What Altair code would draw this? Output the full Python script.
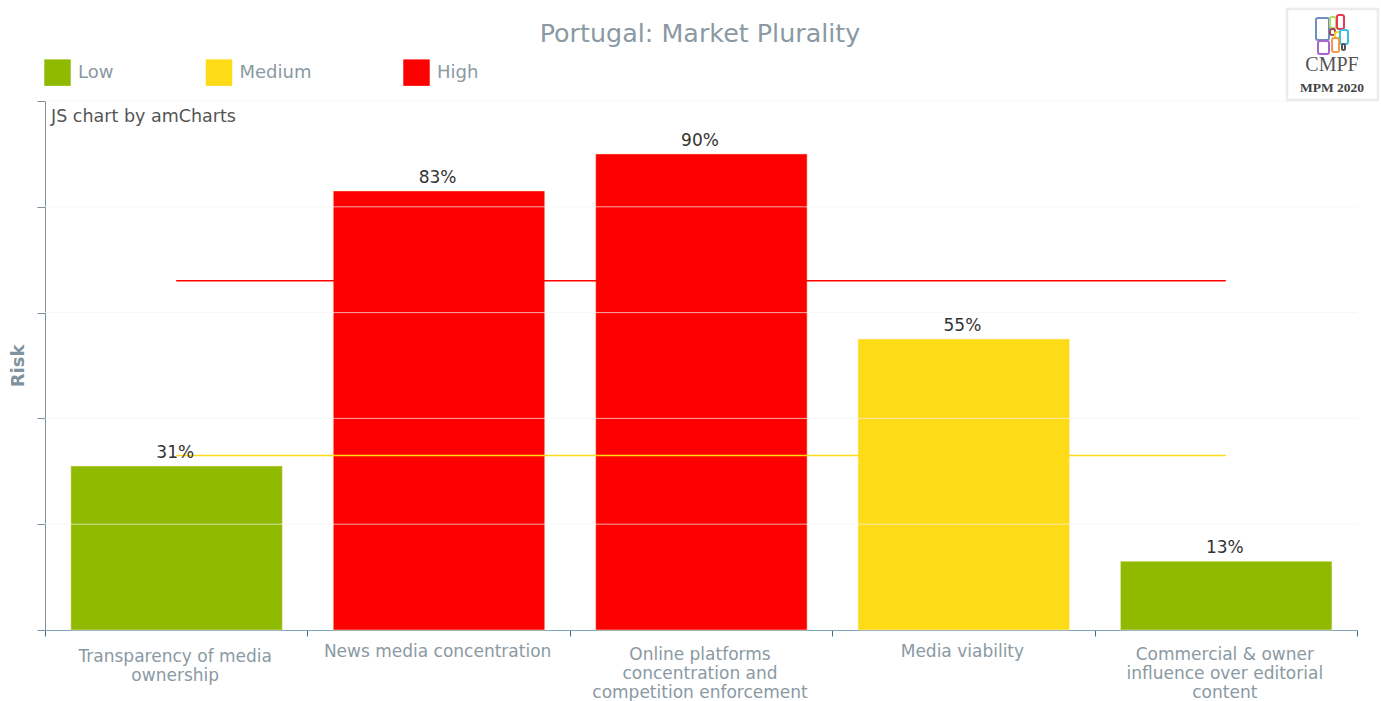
import altair as alt
import pandas as pd

categories = [
    "Transparency of media ownership",
    "News media concentration",
    "Online platforms concentration and competition enforcement",
    "Media viability",
    "Commercial & owner influence over editorial content",
]
wrapped_labels = [
    "Transparency of media\nownership",
    "News media concentration",
    "Online platforms\nconcentration and\ncompetition enforcement",
    "Media viability",
    "Commercial & owner\ninfluence over editorial\ncontent",
]
risk_values = [31, 83, 90, 55, 13]
risk_levels = ["Low", "High", "High", "Medium", "Low"]
level_names = ["Low", "Medium", "High"]
level_colors = ["#8fba00", "#fddb17", "#ff0000"]
grid_values = [20, 40, 60, 80, 100]
thresholds = [("Medium", 33), ("High", 66)]

FONT = "DejaVu Sans"
LEFT, TOP = 45, 101
WIDTH, HEIGHT = 1312, 529
TEXT_GREY = "#8a99a3"


def px(v):
    return alt.value(v - LEFT)


def py(v):
    return alt.value(v - TOP)


bars_df = pd.DataFrame(
    {"category": categories, "label": wrapped_labels, "risk": risk_values, "level": risk_levels}
)
bars_df["lines"] = bars_df["label"].str.count("\n") + 1

x_scale = alt.Scale(domain=categories, paddingInner=0, paddingOuter=0)
y_scale = alt.Scale(domain=[0, 100], nice=False)

x_enc = alt.X(
    "category:N",
    scale=x_scale,
    sort=None,
    title=None,
    axis=alt.Axis(
        labels=False,
        tickBand="extent",
        tickSize=6,
        tickColor="#3f6f8c",
        domainColor="#7fa3b8",
        grid=False,
    ),
)
y_enc = alt.Y(
    "risk:Q",
    scale=y_scale,
    title="Risk",
    axis=alt.Axis(
        values=[0] + grid_values,
        labels=False,
        tickSize=8,
        tickColor="#7d8f9b",
        domainColor="#7d8f9b",
        grid=False,
        titleFont=FONT,
        titleFontSize=18,
        titleFontWeight="bold",
        titleColor="#80929e",
        titlePadding=9,
    ),
)

bars = (
    alt.Chart(bars_df)
    .mark_bar(
        width=alt.RelativeBandSize(band=0.806),
        xOffset=0.4,
        stroke="#fff0d0",
        strokeOpacity=0.5,
        strokeWidth=1,
    )
    .encode(
        x=x_enc,
        y=y_enc,
        color=alt.Color(
            "level:N",
            scale=alt.Scale(domain=level_names, range=level_colors),
            legend=alt.Legend(
                title=None,
                orient="none",
                legendX=-1,
                legendY=-42,
                direction="horizontal",
                columns=3,
                columnPadding=91.5,
                symbolType="square",
                symbolSize=700,
                symbolStrokeWidth=0,
                symbolOpacity=1,
                labelFont=FONT,
                labelFontSize=18,
                labelColor=TEXT_GREY,
                labelOffset=7,
            ),
        ),
    )
)

grid = (
    alt.Chart(pd.DataFrame({"risk": grid_values}))
    .mark_rule(color="#f3f3f3", opacity=0.7, strokeWidth=1)
    .encode(y=alt.Y("risk:Q", scale=y_scale))
)

threshold_layers = []
for level, value in thresholds:
    line_df = pd.DataFrame({"category": categories, "risk": [value] * len(categories)})
    threshold_layers.append(
        alt.Chart(line_df)
        .mark_line(color=level_colors[level_names.index(level)], strokeWidth=1.5)
        .encode(x=alt.X("category:N", scale=x_scale, sort=None), y=alt.Y("risk:Q", scale=y_scale))
    )

value_labels = (
    alt.Chart(bars_df)
    .transform_calculate(text="datum.risk + '%'")
    .mark_text(font=FONT, fontSize=17, color="#333333", baseline="bottom", dy=-4, dx=-1)
    .encode(x=alt.X("category:N", scale=x_scale, sort=None), y=alt.Y("risk:Q", scale=y_scale), text="text:N")
)

# Wrapped category labels: the first line sits lower or higher depending on line count.
label_tops = {1: 644, 2: 649, 3: 647}
label_layers = []
for n_lines, top in label_tops.items():
    label_layers.append(
        alt.Chart(bars_df[bars_df["lines"] == n_lines])
        .mark_text(
            font=FONT,
            fontSize=17,
            color=TEXT_GREY,
            baseline="top",
            lineBreak="\n",
            lineHeight=19,
            dx=-1,
        )
        .encode(x=alt.X("category:N", scale=x_scale, sort=None), y=py(top), text="label:N")
    )

single = pd.DataFrame({"k": [0]})

heading = (
    alt.Chart(single)
    .mark_text(text="Portugal: Market Plurality", font=FONT, fontSize=25.4, color=TEXT_GREY, baseline="middle")
    .encode(x=px(700), y=py(34))
)

credit = (
    alt.Chart(single)
    .mark_text(text="JS chart by amCharts", font=FONT, fontSize=17.5, color="#555555", align="left", baseline="middle")
    .encode(x=px(51), y=py(117))
)

# Logo badge in the top right corner.
logo_frame = (
    alt.Chart(single)
    .mark_rect(fill="#ffffff", stroke="#ececec", strokeWidth=2.5)
    .encode(x=px(1287), x2=px(1378), y=py(9), y2=py(100))
)
logo_tiles = [
    ("#6f8fbf", 1316, 1329, 18, 40),
    ("#b5d96a", 1330, 1336, 17, 28),
    ("#e8384f", 1337, 1344, 15, 29),
    ("#a04a5a", 1330, 1335, 29, 35),
    ("#f2d530", 1335, 1340, 32, 38),
    ("#38c0e8", 1340, 1348, 30, 44),
    ("#a866cc", 1318, 1329, 41, 54),
    ("#f29a4a", 1332, 1339, 38, 52),
    ("#555555", 1342, 1345, 44, 50),
]
logo_layers = [logo_frame]
for color, x0, x1, y0, y1 in logo_tiles:
    logo_layers.append(
        alt.Chart(single)
        .mark_rect(fillOpacity=0, stroke=color, strokeWidth=2, cornerRadius=2)
        .encode(x=px(x0), x2=px(x1), y=py(y0), y2=py(y1))
    )
logo_layers.append(
    alt.Chart(single)
    .mark_text(text="CMPF", font="Liberation Serif", fontSize=20, color="#555555", baseline="middle")
    .encode(x=px(1332), y=py(65))
)
logo_layers.append(
    alt.Chart(single)
    .mark_text(text="MPM 2020", font="Liberation Serif", fontSize=13.5, fontWeight="bold", color="#444444", baseline="middle")
    .encode(x=px(1332), y=py(88))
)

chart = (
    alt.layer(bars, grid, *threshold_layers, value_labels, *label_layers, heading, credit, *logo_layers)
    .properties(
        width=WIDTH,
        height=HEIGHT,
        padding={"left": LEFT, "top": TOP, "right": 1381 - LEFT - WIDTH, "bottom": 701 - TOP - HEIGHT},
        autosize=alt.AutoSizeParams(type="none"),
        background="#ffffff",
    )
    .configure_view(strokeWidth=0)
)

chart.save("out.html", embed_options={"renderer": "svg", "actions": False})
